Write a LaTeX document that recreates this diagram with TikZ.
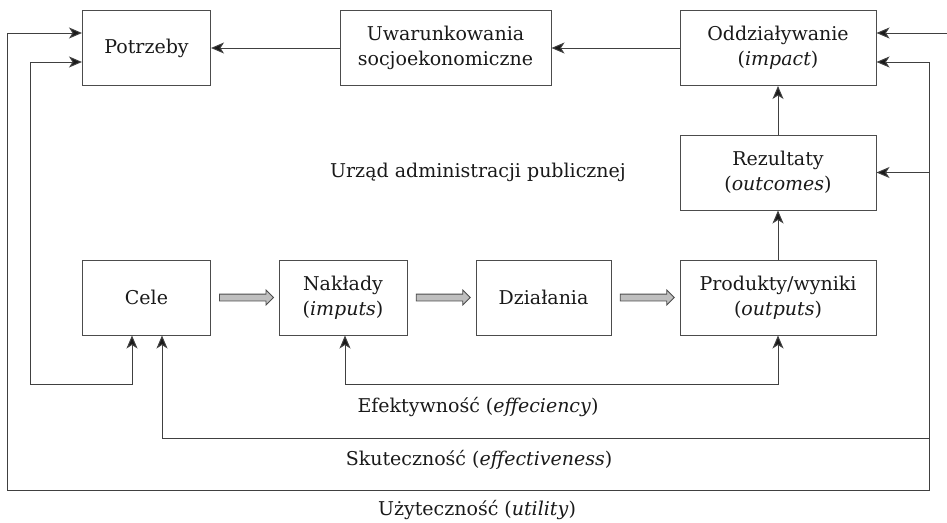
\documentclass[tikz,border=0pt]{standalone}
\usepackage{fontspec}
\setmainfont{DejaVu Serif}
\usetikzlibrary{arrows.meta,shapes.arrows,calc}
\begin{document}
\begin{tikzpicture}[x=1pt,y=-1pt,
  txt/.style={font=\fontsize{19}{25}\selectfont, text=black!90},
  box/.style={txt, draw=black!70, line width=1pt, minimum height=75pt,
    inner sep=2pt, align=center},
  wire/.style={draw=black!75, line width=1pt},
  tip/.tip={Stealth[length=13pt,width=11pt,inset=3.5pt,fill=black!90]},
  link/.style={wire, -tip},
  both/.style={wire, tip-tip},
  flow/.style={single arrow, draw=black!70, fill=black!25, line width=0.8pt,
    minimum height=54pt, inner xsep=0pt, inner ysep=3pt,
    single arrow head extend=4pt, single arrow head indent=0pt}]
\useasboundingbox (0,0) rectangle (947,522);

% boxes
\node[box, minimum width=128pt] (pot) at (146.5,48) {Potrzeby};
\node[box, minimum width=211pt] (uwa) at (445.5,48) {Uwarunkowania\\socjoekonomiczne};
\node[box, minimum width=196pt] (odd) at (778,48) {Oddziaływanie\\(\textit{impact})};
\node[box, minimum width=196pt] (rez) at (778,172.5) {Rezultaty\\(\textit{outcomes})};
\node[box, minimum width=128pt] (cele) at (146.5,297.5) {Cele};
\node[box, minimum width=128pt] (nak) at (343,297.5) {Nakłady\\(\textit{imputs})};
\node[box, minimum width=135pt] (dzi) at (543.5,297.5) {Działania};
\node[box, minimum width=196pt] (pro) at (778,297.5) {Produkty/wyniki\\(\textit{outputs})};

% labels
\node[txt] (urzad) at (478,172) {Urząd administracji publicznej};
\node[txt] (efekt) at (478,407) {Efektywność (\textit{effeciency})};
\node[txt] (skut) at (479,460) {Skuteczność (\textit{effectiveness})};
\node[txt] (uzyt) at (477,510) {Użyteczność (\textit{utility})};

% main chain
\draw[link] (uwa) -- (pot);
\draw[link] (odd) -- (uwa);
\draw[link] (rez) -- (odd);
\draw[link] (pro) -- (rez);

% process flow
\path (cele.east) -- node[flow]{} (nak.west);
\path (nak.east) -- node[flow]{} (dzi.west);
\path (dzi.east) -- node[flow]{} (pro.west);

% feedback loops
\coordinate (utilL) at (7,490);
\coordinate (utilR) at (929,490);
\coordinate (trunkTop) at (929,62);
\coordinate (edge) at (947,33);
\coordinate (effect) at (929,438);
\coordinate (innerL) at (30,384);

\draw[wire] (trunkTop) -- (utilR) -- (utilL);
\draw[link] (utilL) |- ([yshift=15pt]pot.west);
\draw[link] (trunkTop) -- ([yshift=-14pt]odd.east);
\draw[link] (edge) -- ([yshift=15pt]odd.east);
\draw[link] (rez.east -| utilR) -- (rez.east);
\draw[link] (effect) -| ([xshift=15.5pt]cele.south);
\draw[both] ([xshift=-14.5pt]cele.south) |- (innerL) |- ([yshift=-14pt]pot.west);
\draw[both] ([xshift=2pt]nak.south) -- ++(0,49) -| (pro.south);
\end{tikzpicture}
\end{document}
